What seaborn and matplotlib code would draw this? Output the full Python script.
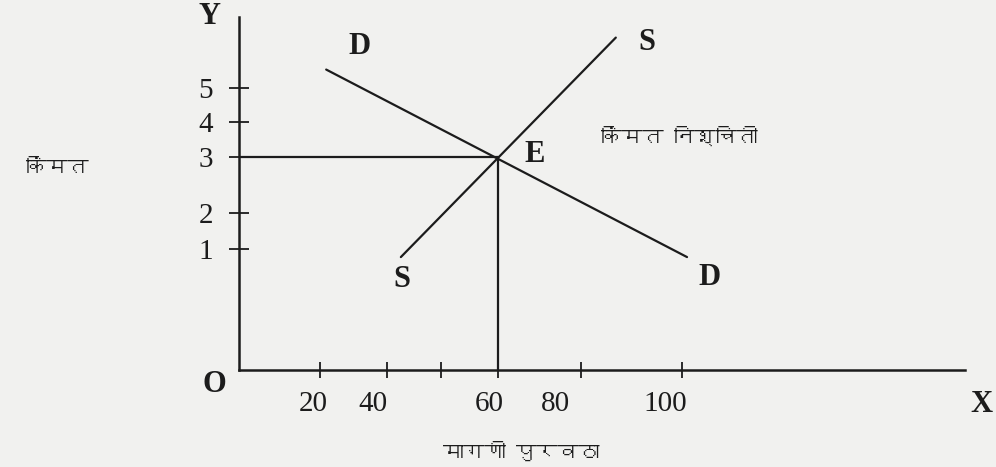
import matplotlib
matplotlib.use("Agg")
import matplotlib.pyplot as plt
from matplotlib import font_manager
import seaborn as sns

# chart data (positions)
demand_qty = [20.2, 103.8]
demand_price = [4.23, 1.59]
supply_qty = [37.5, 87.3]
supply_price = [1.59, 4.68]
eq_qty = 60
eq_price = 3

x_tick_marks = [18.8, 34.3, 46.8, 60.0, 79.2, 102.6]
x_label_pos = [17.1, 31.0, 57.9, 73.4, 98.7]
x_labels = ["20", "40", "60", "80", "100"]
y_tick_marks = [1.70, 2.21, 3.0, 3.49, 3.97]
y_labels = ["1", "2", "3", "4", "5"]

x_title = "मागणी पुरवठा"
y_title = "किंमत"
eq_note = "किंमत निश्चिती"


def devanagari_family():
    # find an installed font that has Devanagari glyphs, if any
    try:
        from fontTools.ttLib import TTFont
    except ImportError:
        return None
    for f in font_manager.fontManager.ttflist:
        try:
            cmap = TTFont(f.fname, fontNumber=0, lazy=True).getBestCmap()
        except Exception:
            continue
        if cmap and 0x0915 in cmap:
            return f.name
    return None


sns.set_theme(style="white")
plt.rcParams["font.family"] = ["Liberation Serif", "DejaVu Serif"]
deva = devanagari_family()
deva_family = [deva, "DejaVu Sans"] if deva else ["Noto Sans", "DejaVu Sans"]

ink = "#1c1c1c"
paper = "#f1f1ef"

fig = plt.figure(figsize=(9.96, 4.67), dpi=100, facecolor=paper)
ax = fig.add_axes([239 / 996, 97 / 467, 726 / 996, 353 / 467])
ax.set_facecolor(paper)

line_kw = dict(color=ink, lw=1.6, estimator=None, sort=False, ax=ax)
sns.lineplot(x=demand_qty, y=demand_price, **line_kw)
sns.lineplot(x=supply_qty, y=supply_price, **line_kw)
sns.lineplot(x=[0, eq_qty], y=[eq_price, eq_price], **line_kw)
sns.lineplot(x=[eq_qty, eq_qty], y=[0, eq_price], **line_kw)

ax.set_xlim(0, 168.2)
ax.set_ylim(0, 4.97)
for side in ["top", "right"]:
    ax.spines[side].set_visible(False)
for side in ["left", "bottom"]:
    ax.spines[side].set_color(ink)
    ax.spines[side].set_linewidth(1.8)

# tick marks sit where the book drew them, labels where it printed them
ax.set_xticks(x_tick_marks, minor=True)
ax.set_xticks(x_label_pos)
ax.set_xticklabels(x_labels, fontsize=21, color=ink)
ax.tick_params(axis="x", which="major", bottom=True, length=0, pad=15)
ax.tick_params(axis="x", which="minor", bottom=True, direction="inout",
               length=12, width=1.3, color=ink)

ax.set_yticks(y_tick_marks)
ax.set_yticklabels(y_labels, fontsize=21, color=ink)
ax.tick_params(axis="y", left=True, direction="inout", length=15,
               width=1.3, color=ink, pad=11)

letter = dict(fontsize=22, fontweight="bold", color=ink,
              ha="center", va="center")
ax.text(28.0, 4.55, "D", **letter)
ax.text(108.9, 1.30, "D", **letter)
ax.text(94.5, 4.61, "S", **letter)
ax.text(37.8, 1.27, "S", **letter)
ax.text(68.6, 3.04, "E", **letter)
ax.text(-5.6, -0.2, "O", clip_on=False, **letter)
ax.text(-6.9, 4.97, "Y", clip_on=False, **letter)
ax.text(172.1, -0.48, "X", clip_on=False, **letter)

deva_style = dict(fontsize=15, fontweight="bold", color=ink,
                  ha="center", va="center", family=deva_family,
                  clip_on=False)
ax.text(101.9, 3.28, eq_note, **deva_style)
ax.text(-42.2, 2.85, y_title, **deva_style)
ax.text(65.3, -1.15, x_title, **deva_style)

fig.savefig("out.png", dpi=100, facecolor=paper)
